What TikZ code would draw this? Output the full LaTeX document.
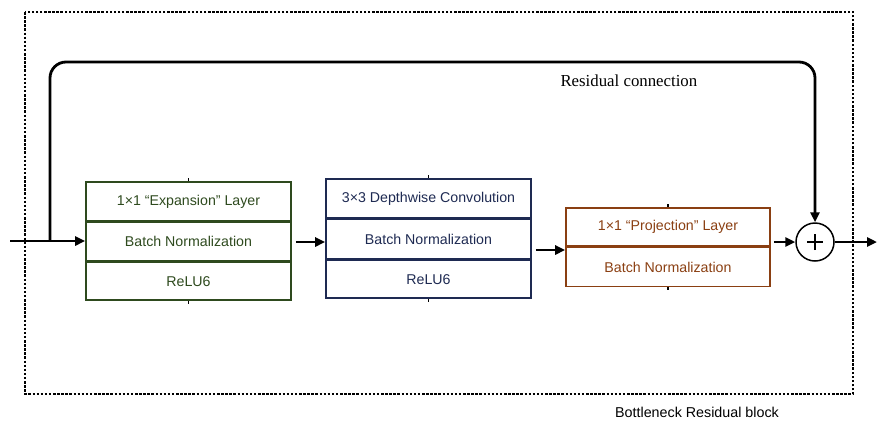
\documentclass[tikz,border=0pt]{standalone}
\usepackage{fontspec}
\setmainfont{Liberation Serif}
\setsansfont{Liberation Sans}
\usetikzlibrary{arrows.meta}
\definecolor{expgreen}{HTML}{2E4A1E}
\definecolor{dwnavy}{HTML}{1E2A52}
\definecolor{projbrown}{HTML}{8A3F12}
\tikzset{
  x=1pt, y=-1pt,
  row/.style={draw, line width=1.6pt, rectangle, minimum width=205pt,
    inner sep=0pt, font=\sffamily\fontsize{14.2}{17}\selectfont},
  flow/.style={line width=2.8pt, -{Triangle[length=10pt,width=9pt]}},
  wire/.style={line width=2.8pt},
  tick/.style={line width=1.2pt},
  frame/.style={line width=1.4pt, dash pattern=on 2.5pt off 1.6pt}
}
\begin{document}
\begin{tikzpicture}
\useasboundingbox (0,0) rectangle (877,421);

% outer block frame
\draw[frame] (25,12) rectangle (853,394);
\node[font=\sffamily\fontsize{14.3}{17}\selectfont, anchor=base] (blk) at (697,417) {Bottleneck Residual block};

% expansion stage
\node[row, draw=expgreen, text=expgreen, minimum height=39pt] (e1) at (188.5,201.5) {1×1 “Expansion” Layer};
\node[row, draw=expgreen, text=expgreen, minimum height=38pt, anchor=north] (e2) at (e1.south) {Batch Normalization};
\node[row, draw=expgreen, text=expgreen, minimum height=38pt, anchor=north] (e3) at (e2.south) {ReLU6};

% depthwise stage
\node[row, draw=dwnavy, text=dwnavy, minimum height=39pt] (d1) at (428.5,198.5) {3×3 Depthwise Convolution};
\node[row, draw=dwnavy, text=dwnavy, minimum height=39pt, anchor=north] (d2) at (d1.south) {Batch Normalization};
\node[row, draw=dwnavy, text=dwnavy, minimum height=38pt, anchor=north] (d3) at (d2.south) {ReLU6};

% projection stage
\node[row, draw=projbrown, text=projbrown, minimum width=204pt, minimum height=38pt] (p1) at (668,227) {1×1 “Projection” Layer};
\node[row, draw=projbrown, text=projbrown, minimum width=204pt, minimum height=39pt, anchor=north] (p2) at (p1.south) {Batch Normalization};

% small ticks on the stage boxes
\foreach \b/\t in {e1/e3, d1/d3, p1/p2} {
  \draw[tick] (\b.north) -- ++(0,-3);
  \draw[tick] (\t.south) -- ++(0,3);
}

% sum node with a drawn plus sign
\node[draw, circle, line width=1.5pt, minimum size=38pt, inner sep=0pt] (sum) at (815,242) {};
\draw[line width=1.3pt] ([xshift=-8pt]sum.center) -- ([xshift=8pt]sum.center);
\draw[line width=1.3pt] ([yshift=-8pt]sum.center) -- ([yshift=8pt]sum.center);

% input and residual path
\coordinate (in) at (10,241);
\coordinate (split) at (50,241);
\draw[wire] (in) -- (split);
\draw[flow] (split) -- (e2.west |- split);
\draw[wire, rounded corners=16pt, -{Triangle[length=10pt,width=9pt]}]
  (split) -- (50,62) -- (sum.north |- 0,62) -- (sum.north);
\node[font=\fontsize{16.8}{20}\selectfont, anchor=base west] (res) at (557,86) {Residual connection};

% main data path
\draw[flow, shorten <=4pt] (e2.east |- 0,242) -- (d2.west |- 0,242);
\draw[flow, shorten <=4pt] (d2.east |- 0,250) -- (p1.west |- 0,250);
\draw[flow, shorten <=3pt] (p1.east |- sum.west) -- (sum.west);
\coordinate (out) at (877,242);
\draw[flow] (sum.east) -- (out);
\end{tikzpicture}
\end{document}
